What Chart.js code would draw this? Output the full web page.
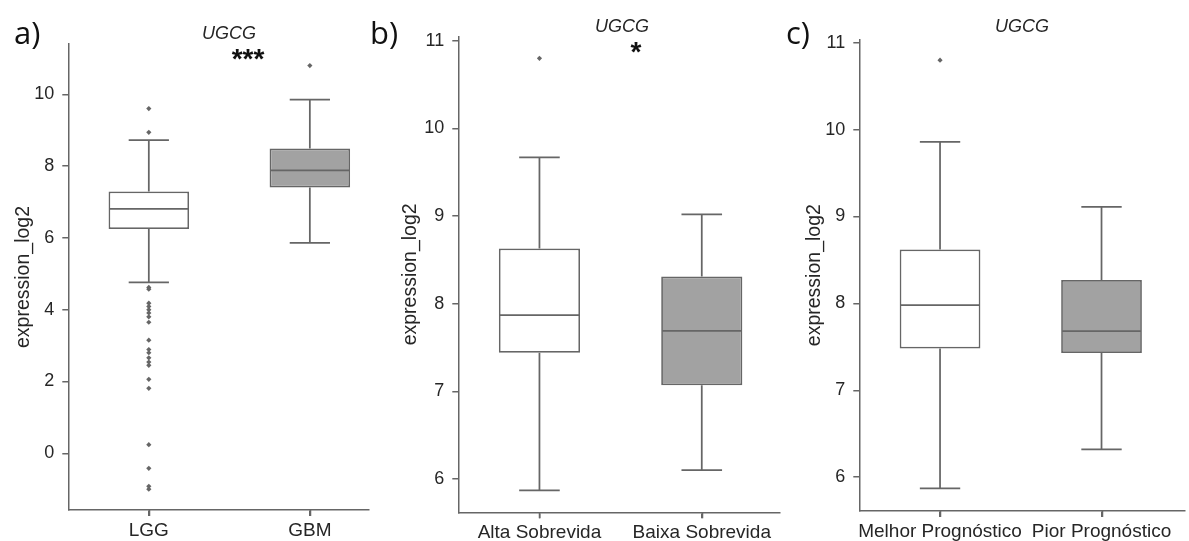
<!DOCTYPE html>
<html>
<head>
<meta charset="utf-8">
<script src="https://cdn.jsdelivr.net/npm/chart.js@4.4.1/dist/chart.umd.min.js"></script>
<style>
  body { margin: 0; background: #fff; }
  #wrap { position: relative; width: 1189px; height: 541px; overflow: hidden; }
  canvas { position: absolute; top: 0; }
  .lbl { position: absolute; line-height: 1; white-space: nowrap; color: #111; }
  .panel { font-family: 'Open Sans'; font-size: 31px; }
  .gene { font-family: 'Liberation Sans'; font-style: italic; font-size: 18px; color: #262626; transform: translateX(-50%); }
  .stars { font-family: 'Liberation Sans'; font-weight: bold; font-size: 28px; transform: translateX(-50%); }
</style>
</head>
<body>
<div id="wrap">
  <canvas id="chartA" width="378" height="541" style="left:0px"></canvas>
  <canvas id="chartB" width="400" height="541" style="left:384px"></canvas>
  <canvas id="chartC" width="403" height="541" style="left:786px"></canvas>

  <div class="lbl panel" style="left:14px; top:17px">a)</div>
  <div class="lbl panel" style="left:370px; top:17px">b)</div>
  <div class="lbl panel" style="left:786px; top:17px">c)</div>

  <div class="lbl gene" style="left:229px; top:24px">UGCG</div>
  <div class="lbl stars" style="left:248px; top:45px">***</div>
  <div class="lbl gene" style="left:622px; top:17px">UGCG</div>
  <div class="lbl stars" style="left:636px; top:38px">*</div>
  <div class="lbl gene" style="left:1022px; top:17px">UGCG</div>
</div>

<script>
// a) LGG vs GBM
const categoriesA = ['LGG', 'GBM'];
const q1A = [6.25, 7.40];
const medianA = [6.81, 7.88];
const q3A = [7.29, 8.49];
const whiskerLowA = [4.76, 5.86];
const whiskerHighA = [8.72, 9.85];
const outliersA = [
    [9.60, 8.94, 4.62, 4.57, 4.18, 4.09, 4.00, 3.91, 3.80, 3.65, 3.15, 2.89, 2.80,
     2.66, 2.54, 2.45, 2.06, 1.81, 0.24, -0.42, -0.92, -1.00],
    [10.80]
];
const yTicksA = [0, 2, 4, 6, 8, 10];

// b) survival
const categoriesB = ['Alta Sobrevida', 'Baixa Sobrevida'];
const q1B = [7.44, 7.07];
const medianB = [7.87, 7.69];
const q3B = [8.63, 8.31];
const whiskerLowB = [5.87, 6.10];
const whiskerHighB = [9.67, 9.02];
const outliersB = [[10.80], []];
const yTicksB = [6, 7, 8, 9, 10, 11];

// c) prognosis
const categoriesC = ['Melhor Prognóstico', 'Pior Prognóstico'];
const q1C = [7.48, 7.43];
const medianC = [7.98, 7.68];
const q3C = [8.62, 8.27];
const whiskerLowC = [5.87, 6.32];
const whiskerHighC = [9.86, 9.11];
const outliersC = [[10.80], []];
const yTicksC = [6, 7, 8, 9, 10, 11];

const LINE_COLOR = '#666666';
const TEXT_COLOR = '#262626';
const BOX_FILLS = ['#ffffff', '#a2a2a2'];
const CANVAS_H = 541;
const X_AXIS_H = 31;

Chart.defaults.font.family = "'Liberation Sans', Arial, sans-serif";

function makeWhiskerPlugin(q1, median, q3, low, high) {
    return {
        id: 'whiskers',
        beforeDatasetsDraw(chart) {
            const { ctx, scales: { x, y } } = chart;
            const cap = x.getPixelForValue(0.125) - x.getPixelForValue(0);
            ctx.save();
            ctx.strokeStyle = LINE_COLOR;
            ctx.lineWidth = 1.75;
            ctx.beginPath();
            low.forEach((lo, i) => {
                const cx = x.getPixelForValue(i);
                const yLo = y.getPixelForValue(lo);
                const yHi = y.getPixelForValue(high[i]);
                ctx.moveTo(cx, y.getPixelForValue(q1[i]));
                ctx.lineTo(cx, yLo);
                ctx.moveTo(cx - cap, yLo);
                ctx.lineTo(cx + cap, yLo);
                ctx.moveTo(cx, y.getPixelForValue(q3[i]));
                ctx.lineTo(cx, yHi);
                ctx.moveTo(cx - cap, yHi);
                ctx.lineTo(cx + cap, yHi);
            });
            ctx.stroke();
            ctx.restore();
        },
        afterDatasetsDraw(chart) {
            const { ctx, chartArea, scales: { x, y } } = chart;
            ctx.save();
            ctx.strokeStyle = LINE_COLOR;
            ctx.lineWidth = 1.75;
            ctx.beginPath();
            median.forEach((m, i) => {
                const ym = y.getPixelForValue(m);
                ctx.moveTo(x.getPixelForValue(i - 0.25) + 1, ym);
                ctx.lineTo(x.getPixelForValue(i + 0.25) - 1, ym);
            });
            ctx.stroke();
            // category tick marks under the x axis
            ctx.lineWidth = 1.5;
            ctx.beginPath();
            median.forEach((m, i) => {
                const cx = Math.round(x.getPixelForValue(i)) + 0.5;
                ctx.moveTo(cx, chartArea.bottom);
                ctx.lineTo(cx, chartArea.bottom + 6);
            });
            ctx.stroke();
            ctx.restore();
        }
    };
}

function drawBoxChart(id, cfg) {
    const cats = cfg.categories;
    const ctx = document.getElementById(id).getContext('2d');
    const canvasW = ctx.canvas.width;
    const axisGrid = {
        display: true,
        offset: false,
        drawOnChartArea: false,
        drawTicks: true,
        tickLength: 6,
        color: LINE_COLOR,
        lineWidth: 1.5
    };
    const axisBorder = { display: true, color: LINE_COLOR, width: 1.5 };

    let fliers = [];
    cfg.outliers.forEach((list, i) => {
        list.forEach(v => fliers.push({ x: i, y: v }));
    });

    new Chart(ctx, {
        type: 'bar',
        data: {
            datasets: [{
                type: 'bar',
                data: cats.map((c, i) => ({ x: i, y: [cfg.q1[i], cfg.q3[i]] })),
                backgroundColor: BOX_FILLS,
                borderColor: LINE_COLOR,
                borderWidth: 1.75,
                borderSkipped: false,
                barPercentage: 0.5,
                categoryPercentage: 1
            }, {
                type: 'scatter',
                data: fliers,
                pointStyle: 'rectRot',
                pointRadius: 2.6,
                pointBackgroundColor: LINE_COLOR,
                pointBorderWidth: 0
            }]
        },
        options: {
            responsive: false,
            animation: false,
            devicePixelRatio: 1,
            events: [],
            layout: {
                padding: {
                    left: 0,
                    right: canvasW - (cfg.area.right - cfg.left),
                    top: cfg.area.top,
                    bottom: CANVAS_H - cfg.area.bottom - X_AXIS_H
                }
            },
            plugins: {
                legend: { display: false },
                tooltip: { enabled: false }
            },
            scales: {
                x: {
                    type: 'linear',
                    min: -0.5,
                    max: cfg.xMax,
                    offset: false,
                    grid: axisGrid,
                    border: axisBorder,
                    afterBuildTicks: s => { s.ticks = cats.map((c, i) => ({ value: i })); },
                    ticks: {
                        callback: (v, i) => cats[i],
                        color: TEXT_COLOR,
                        font: { size: 19 },
                        padding: 3,
                        maxRotation: 0,
                        autoSkip: false
                    },
                    afterFit: s => { s.height = X_AXIS_H; s.paddingLeft = 0; s.paddingRight = 0; }
                },
                y: {
                    min: cfg.yMin,
                    max: cfg.yMax,
                    beginAtZero: false,
                    grid: axisGrid,
                    border: axisBorder,
                    afterBuildTicks: s => { s.ticks = cfg.yTicks.map(v => ({ value: v })); },
                    ticks: { color: TEXT_COLOR, font: { size: 18 }, padding: 8 },
                    title: {
                        display: true,
                        text: 'expression_log2',
                        color: TEXT_COLOR,
                        font: { size: 19.5 },
                        padding: { top: cfg.titleX - cfg.left - 11.7, bottom: 0 }
                    },
                    afterFit: s => { s.width = cfg.area.left - cfg.left; s.paddingTop = 0; s.paddingBottom = 0; }
                }
            }
        },
        plugins: [makeWhiskerPlugin(cfg.q1, cfg.median, cfg.q3, cfg.low, cfg.high)]
    });
}

drawBoxChart('chartA', {
    categories: categoriesA, q1: q1A, median: medianA, q3: q3A,
    low: whiskerLowA, high: whiskerHighA, outliers: outliersA, yTicks: yTicksA,
    yMin: -1.58, yMax: 11.40, xMax: 1.363,
    left: 0, titleX: 24,
    area: { left: 68.3, right: 368.3, top: 44, bottom: 510 }
});

drawBoxChart('chartB', {
    categories: categoriesB, q1: q1B, median: medianB, q3: q3B,
    low: whiskerLowB, high: whiskerHighB, outliers: outliersB, yTicks: yTicksB,
    yMin: 5.62, yMax: 11.05, xMax: 1.482,
    left: 384, titleX: 411,
    area: { left: 458.3, right: 782, top: 36.4, bottom: 512.3 }
});

drawBoxChart('chartC', {
    categories: categoriesC, q1: q1C, median: medianC, q3: q3C,
    low: whiskerLowC, high: whiskerHighC, outliers: outliersC, yTicks: yTicksC,
    yMin: 5.61, yMax: 11.04, xMax: 1.517,
    left: 786, titleX: 815,
    area: { left: 859.3, right: 1186, top: 39.3, bottom: 511 }
});
</script>
</body>
</html>
